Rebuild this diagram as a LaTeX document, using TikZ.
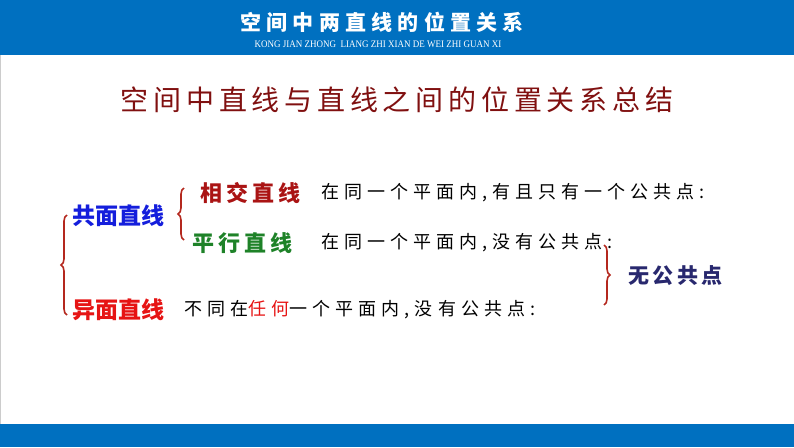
\documentclass[tikz,border=0pt]{standalone}
\usepackage{fontspec}
\setmainfont{Noto Sans CJK SC}
\newfontfamily\pinyinfont{Liberation Serif}
\usetikzlibrary{positioning, decorations.pathreplacing}
\definecolor{barblue}{RGB}{0,112,192}
\definecolor{titlered}{RGB}{128,16,16}
\definecolor{termred}{RGB}{170,20,20}
\definecolor{termgreen}{RGB}{30,130,40}
\definecolor{termblue}{RGB}{20,30,220}
\definecolor{skewred}{RGB}{230,20,20}
\definecolor{navyterm}{RGB}{40,40,110}
\definecolor{bracered}{RGB}{180,40,30}
\newcommand{\cjkfont}[2]{\fontsize{#1}{#1}\selectfont\addfontfeatures{LetterSpace=#2}}

\begin{document}
\begin{tikzpicture}[x=1pt, y=1pt,
    txt/.style={inner sep=0pt, anchor=west},
    term/.style={txt, font=\cjkfont{22}{19}\bfseries},
    kind/.style={txt, font=\cjkfont{23}{0}\bfseries},
    desc/.style={txt, font=\cjkfont{18}{28}},
    bracket/.style={draw=bracered, line width=1.6pt, decorate, decoration={brace, amplitude=6pt}}]
    \useasboundingbox (0,0) rectangle (794,-447);

    % header and footer bars
    \fill[barblue] (0,0) rectangle (794,-55);
    \fill[barblue] (0,-424) rectangle (794,-447);
    \draw[gray!40, line width=0.8pt] (0.4,-55) -- (0.4,-424);

    \node [inner sep=0pt, text=white, font=\cjkfont{21}{25}\bfseries] (header) at (382,-22) {空间中两直线的位置关系};
    \node [inner sep=0pt, text=white, font=\pinyinfont\fontsize{10}{10}\selectfont, xscale=0.9] (pinyin) at (378,-44) {KONG JIAN ZHONG\ \ LIANG ZHI XIAN DE WEI ZHI GUAN XI};

    \node [inner sep=0pt, text=titlered, font=\cjkfont{28}{17}] (summary) at (397,-100) {空间中直线与直线之间的位置关系总结};

    % coplanar lines
    \node [kind, text=termblue] (coplanar) at (72,-216) {共面直线};
    \node [term, text=termred] (intersect) at (200,-193) {相交直线};
    \node [desc, right=20pt of intersect] (intersectdef) {在同一个平面内,有且只有一个公共点:};
    \node [term, text=termgreen] (parallel) at (192,-243) {平行直线};
    \node [desc] (paralleldef) at (intersectdef.west |- parallel.west) {在同一个平面内,没有公共点:};

    % skew lines
    \node [kind, text=skewred] (skew) at (72,-310) {异面直线};
    \node [desc, right=20pt of skew] (skewdef) {不同在{\color{skewred}任何}一个平面内,没有公共点:};

    \node [txt, text=navyterm, font=\cjkfont{21}{17}\bfseries] (nocommon) at (628,-276) {无公共点};

    % braces
    \coordinate (bigtop) at (67,-215);
    \coordinate (bigbot) at (67,-315);
    \coordinate (smalltop) at (184,-188);
    \coordinate (smallbot) at (184,-240);
    \coordinate (righttop) at (604,-245);
    \coordinate (rightbot) at (604,-305);
    \draw[bracket] (bigbot) -- (bigtop);
    \draw[bracket] (smallbot) -- (smalltop);
    \draw[bracket] (righttop) -- (rightbot);
\end{tikzpicture}
\end{document}
